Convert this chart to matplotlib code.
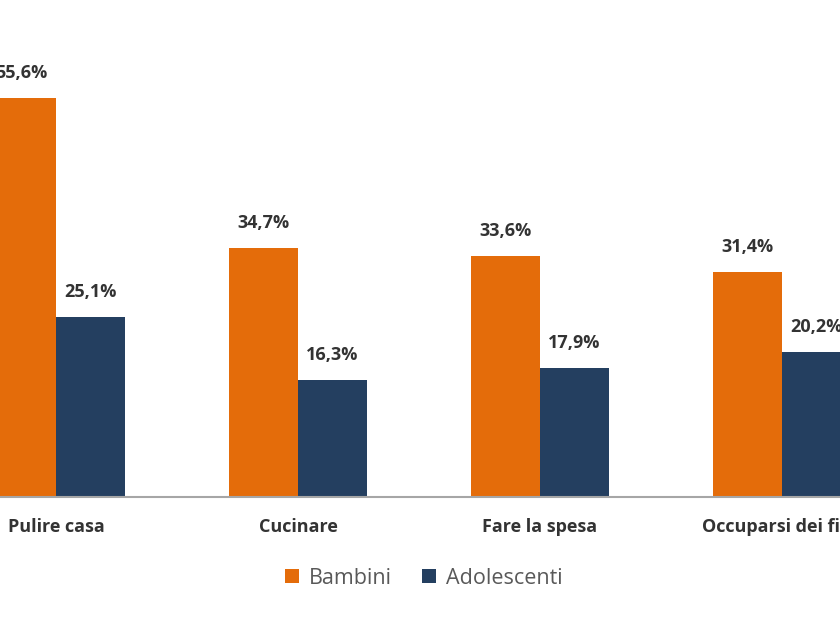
import numpy as np
import matplotlib.pyplot as plt

categorie = ["Pulire casa", "Cucinare", "Fare la spesa", "Occuparsi dei figli"]
bambini = [55.6, 34.7, 33.6, 31.4]
adolescenti = [25.1, 16.3, 17.9, 20.2]
serie = ["Bambini", "Adolescenti"]

arancio = "#E46C0A"
blu = "#243F60"

plt.rcParams['font.family'] = ['Open Sans', 'DejaVu Sans']

fig = plt.figure(figsize=(8.4, 6.2), dpi=100)
ax = fig.add_axes([0, 123 / 620, 1, 497 / 620])

x = np.arange(len(categorie))
w = 69 / 242
b1 = ax.bar(x - w / 2, bambini, w, color=arancio, label=serie[0])
b2 = ax.bar(x + w / 2, adolescenti, w, color=blu, label=serie[1])

for barre, valori in [(b1, bambini), (b2, adolescenti)]:
    for r, v in zip(barre, valori):
        ax.annotate(f"{v:.1f}%".replace(".", ","),
                    (r.get_x() + r.get_width() / 2, v),
                    xytext=(0, 18), textcoords="offset points",
                    ha="center", va="center", fontsize=13,
                    fontweight="bold", color="#333333")

ax.set_xlim(-56 / 242, 784 / 242)
ax.set_ylim(0, 497 / 7.18)
ax.set_xticks(x)
ax.set_xticklabels(categorie, fontsize=13, fontweight="bold", color="#333333")
ax.tick_params(axis="x", length=0, pad=15)
ax.set_yticks([])
for s in ["top", "left", "right"]:
    ax.spines[s].set_visible(False)
ax.spines["bottom"].set_color("#A6A6A6")
ax.spines["bottom"].set_linewidth(1.5)

fig.legend(loc="center", bbox_to_anchor=(424 / 840, 1 - 578 / 620), ncol=2,
           frameon=False, fontsize=15.5, handlelength=0.65, handleheight=0.65,
           columnspacing=1.4, handletextpad=0.45, labelcolor="#595959")

fig.savefig("out.png", dpi=100)
